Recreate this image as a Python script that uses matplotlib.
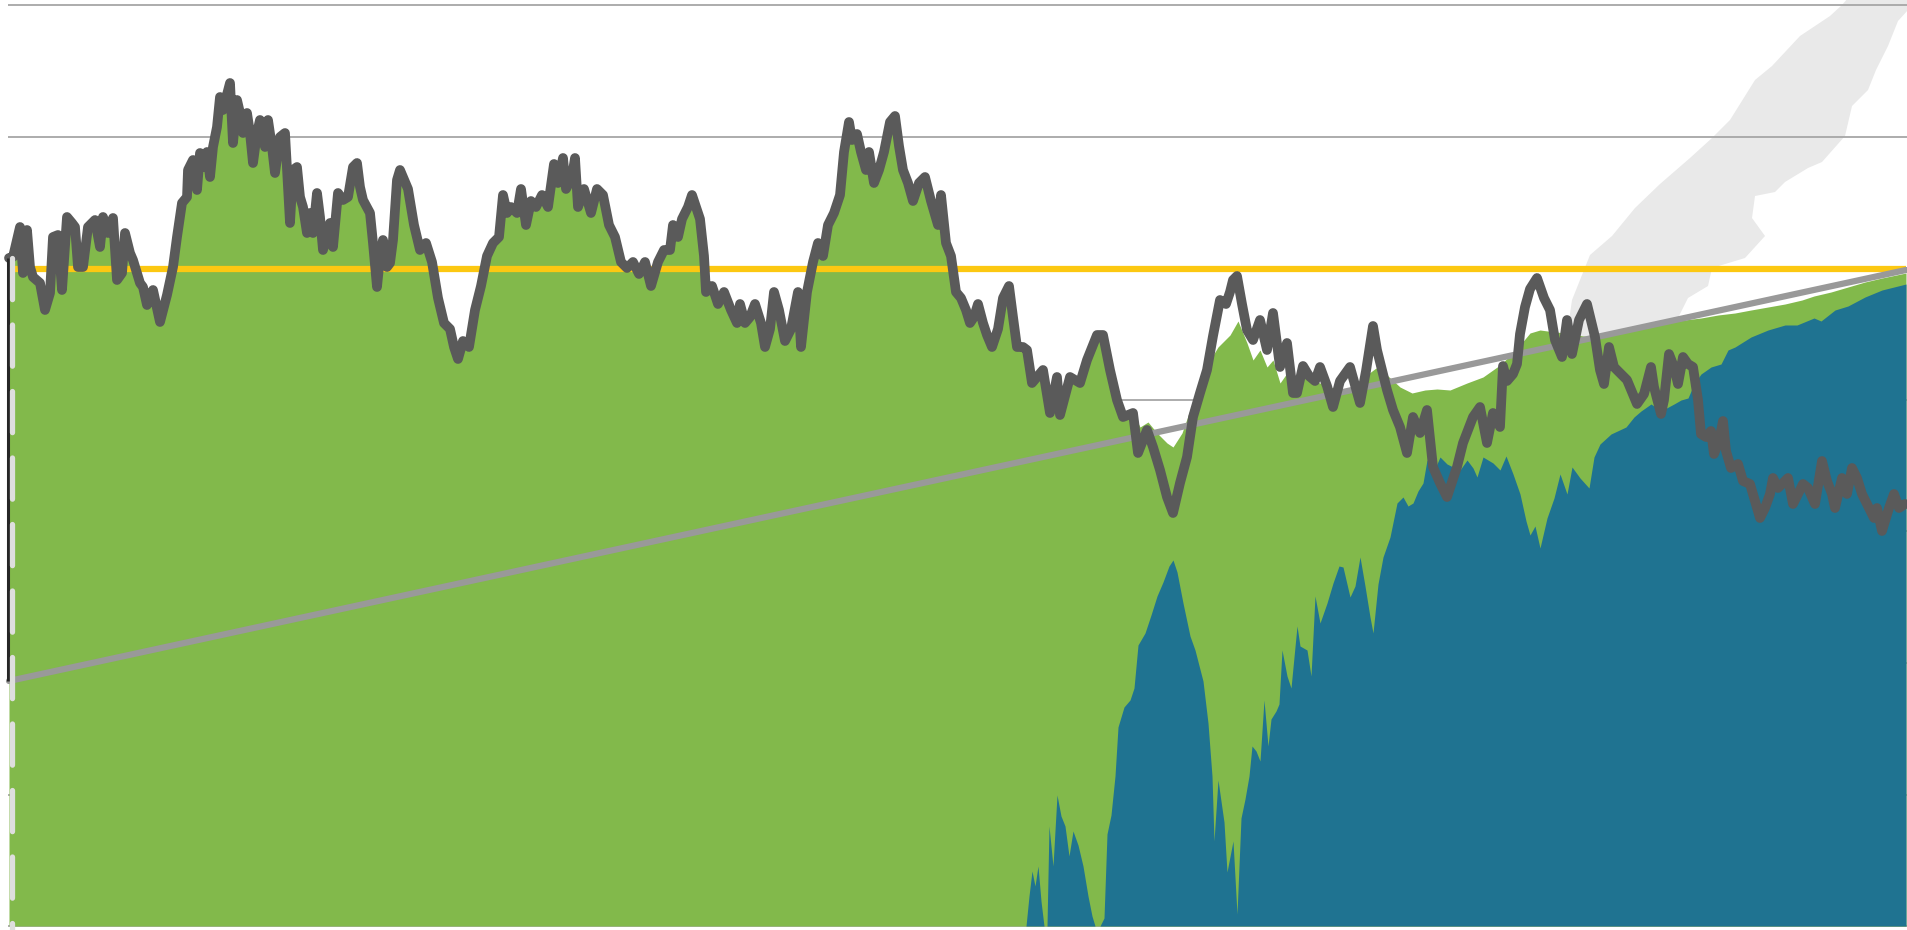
# -*- coding: utf-8 -*-
import numpy as np
import matplotlib
matplotlib.use('Agg')
import matplotlib.pyplot as plt


# Price line (day, level)
price_day = np.array([
    9, 13, 20, 23, 27, 30, 33, 40, 45, 50, 53, 58, 62, 67, 72, 75, 78, 83, 88, 95,
    100, 103, 108, 113, 117, 122, 125, 130, 133, 140, 143, 147, 153, 160, 167, 173, 177, 182, 187, 188,
    193, 197, 200, 203, 207, 210, 213, 217, 220, 223, 230, 233, 237, 240, 243, 247, 250, 253, 257, 260,
    265, 268, 272, 275, 280, 285, 290, 293, 297, 300, 303, 307, 310, 313, 317, 320, 323, 330, 333, 338,
    343, 348, 353, 357, 360, 363, 370, 373, 377, 380, 383, 387, 390, 393, 397, 400,
    408, 414, 420, 426, 432, 438, 444, 450, 454, 458, 463, 469, 475, 481, 487, 493, 499, 503, 507, 511,
    517, 521, 526, 531, 536, 542, 548, 554, 558, 563, 566, 572, 575, 578, 584, 591, 597, 603, 609, 615,
    621, 627, 633, 639, 645, 651, 658, 664, 670, 673, 678, 682, 688, 692, 696, 700, 704, 706, 712, 718,
    724, 731, 737, 740, 745, 750, 755, 761, 765, 770, 774, 779, 785, 791, 798, 801, 807, 813, 818, 823,
    828, 834, 840, 844, 849, 852, 857, 861, 866, 869, 874, 879, 884, 890, 895, 899, 903, 908, 913, 919,
    925, 931, 938, 941, 946, 951, 956, 961, 966, 970, 974, 978, 983, 987, 992, 998,
    1003, 1009, 1013, 1017, 1023, 1027, 1032, 1043, 1050, 1057, 1060, 1070, 1080, 1087, 1097, 1103, 1110, 1117, 1123, 1133,
    1138, 1147, 1153, 1160, 1167, 1173, 1180, 1187, 1193, 1200, 1207, 1213, 1220, 1226, 1230, 1233, 1237, 1242, 1247, 1253,
    1260, 1267, 1273, 1280, 1287, 1293, 1297, 1303, 1309, 1315, 1320, 1327, 1333, 1340, 1350, 1360, 1366, 1373, 1377, 1387,
    1393, 1400, 1407, 1413, 1420, 1427, 1433, 1440, 1447, 1457, 1463, 1473, 1480, 1487, 1493, 1500,
    1503, 1507, 1513, 1517, 1520, 1525, 1530, 1537, 1544, 1550, 1555, 1562, 1567, 1572, 1579, 1587, 1595, 1600, 1604, 1609,
    1614, 1621, 1627, 1634, 1637, 1644, 1651, 1654, 1661, 1664, 1669, 1674, 1678, 1683, 1688, 1693, 1698, 1701, 1706, 1711,
    1714, 1719, 1723, 1726, 1731, 1738, 1743, 1750, 1755, 1760, 1765, 1770, 1773, 1778, 1785, 1788, 1793, 1798, 1803, 1808,
    1815, 1822, 1827, 1832, 1835, 1842, 1847, 1852, 1857, 1862, 1869, 1874, 1877, 1882, 1889, 1894, 1899, 1905])
price_level = np.array([
    668, 669, 699, 653, 696, 659, 649, 643, 616, 633, 689, 691, 636, 709, 703, 699, 659, 659, 699, 706,
    679, 709, 693, 708, 646, 653, 693, 673, 666, 643, 639, 621, 636, 604, 631, 659, 689, 723, 729, 756,
    766, 736, 773, 759, 774, 749, 779, 799, 829, 816, 843, 783, 826, 813, 793, 813, 793, 763, 793, 806,
    779, 806, 779, 753, 789, 793, 703, 756, 759, 729, 719, 693, 713, 693, 733, 709, 676, 703, 679, 733,
    726, 729, 759, 763, 739, 726, 713, 683, 639, 669, 686, 659, 663, 686, 746, 756,
    737, 701, 676, 683, 664, 628, 603, 597, 579, 567, 585, 579, 616, 640, 670, 683, 689, 731, 713, 719,
    713, 737, 701, 725, 719, 731, 719, 762, 743, 768, 737, 749, 768, 719, 737, 713, 737, 731, 701, 689,
    664, 658, 664, 652, 664, 640, 664, 676, 676, 701, 689, 707, 719, 731, 719, 707, 670, 634, 640, 622,
    634, 616, 603, 622, 603, 609, 622, 603, 579, 597, 634, 616, 585, 597, 634, 579, 634, 664, 683, 670,
    701, 713, 731, 774, 804, 786, 792, 774, 756, 774, 743, 756, 774, 804, 810, 780, 756, 743, 725, 743,
    749, 725, 701, 731, 683, 670, 634, 628, 616, 603, 609, 622, 603, 591, 579, 597,
    628, 640, 609, 579, 579, 576, 543, 556, 513, 549, 511, 549, 543, 566, 591, 591, 556, 526, 509, 513,
    473, 496, 479, 456, 429, 413, 443, 469, 509, 533, 556, 590, 626, 622, 634, 646, 650, 622, 596, 586,
    606, 576, 613, 559, 583, 533, 533, 560, 550, 545, 559, 540, 519, 545, 559, 523, 555, 600, 576, 536,
    516, 499, 473, 509, 493, 516, 459, 443, 429, 459, 483, 509, 519, 483, 513, 499,
    560, 545, 552, 562, 592, 619, 637, 648, 628, 616, 586, 569, 606, 572, 606, 622, 589, 556, 542, 579,
    559, 552, 546, 529, 522, 532, 559, 539, 512, 526, 572, 559, 542, 569, 562, 559, 526, 492, 489, 495,
    472, 485, 505, 475, 458, 462, 445, 442, 425, 408, 418, 432, 448, 438, 445, 448, 422, 432, 442, 438,
    422, 465, 445, 432, 418, 448, 432, 458, 448, 432, 418, 408, 418, 395, 418, 432, 418, 422])

# Green area: same as the price up to day 1133, then its own top
green_split = 1133
green_tail_day = np.array([
    1140, 1148, 1157, 1167, 1173, 1182, 1190, 1200, 1210, 1218, 1230, 1238, 1247, 1253, 1260, 1267, 1273, 1280, 1287, 1293,
    1303, 1315, 1327, 1339, 1352, 1364, 1376, 1388, 1400, 1412, 1425, 1437, 1450, 1467, 1483, 1500, 1515, 1530, 1540, 1555,
    1567, 1583, 1600, 1617, 1634, 1651, 1668, 1684, 1701, 1718, 1735, 1751, 1768, 1785, 1802, 1814, 1831, 1848, 1865, 1882,
    1906])
green_tail_level = np.array([
    499, 504, 493, 483, 479, 493, 516, 543, 566, 579, 591, 605, 583, 566, 576, 559, 566, 543, 553, 536,
    548, 545, 540, 536, 536, 549, 558, 550, 539, 533, 536, 537, 536, 543, 549, 561, 575, 593, 596, 594,
    593, 590, 589, 593, 596, 599, 603, 606, 608, 611, 613, 616, 619, 622, 626, 630, 634, 639, 644, 648,
    653])

# Teal area
teal_day = np.array([
    1026, 1029, 1032, 1035, 1038, 1041, 1044, 1047, 1049, 1053, 1057, 1061, 1065, 1069, 1073, 1078, 1083, 1088, 1092, 1095,
    1100, 1104, 1107, 1111, 1115, 1118, 1124, 1130, 1134, 1138, 1145, 1151, 1157, 1163, 1169, 1173, 1177, 1183, 1190, 1195,
    1203, 1208, 1212, 1214, 1218, 1224, 1227, 1233, 1237, 1241, 1245, 1249, 1252, 1256, 1260, 1264, 1268, 1271, 1276, 1279,
    1282, 1287, 1291, 1297, 1300, 1307, 1311, 1315, 1320, 1327, 1333, 1339, 1343, 1350, 1355, 1360, 1365, 1370, 1373, 1378,
    1383, 1390, 1397, 1403, 1408, 1413, 1418, 1423, 1427, 1433, 1440, 1447, 1453, 1460, 1467, 1473, 1477, 1483, 1493, 1500,
    1506, 1513, 1520, 1526, 1530, 1535, 1540, 1547, 1554, 1560, 1567, 1572, 1580, 1589, 1594, 1600, 1611, 1626, 1634, 1641,
    1651, 1661, 1674, 1681, 1688, 1694, 1701, 1711, 1721, 1728, 1735, 1751, 1768, 1785, 1797, 1814, 1821, 1835, 1848, 1865,
    1882, 1906])
teal_level = np.array([
    0, 30, 55, 40, 60, 25, 0, 0, 100, 60, 131, 110, 100, 70, 95, 81, 60, 30, 10, 0,
    0, 8, 92, 111, 150, 199, 219, 226, 238, 281, 293, 311, 330, 344, 360, 366, 354, 323, 290, 276,
    245, 203, 150, 85, 146, 104, 54, 85, 12, 108, 127, 150, 180, 175, 165, 226, 180, 207, 215, 222,
    276, 250, 238, 300, 280, 276, 250, 330, 303, 323, 343, 360, 359, 329, 340, 369, 340, 309, 293, 342,
    369, 389, 423, 429, 420, 423, 435, 443, 466, 453, 469, 462, 459, 456, 466, 458, 449, 469, 463, 456,
    470, 452, 432, 405, 391, 400, 378, 408, 428, 452, 432, 459, 448, 438, 469, 482, 492, 499, 509, 515,
    522, 515, 522, 526, 528, 542, 552, 559, 562, 576, 579, 589, 596, 601, 601, 608, 605, 616, 620, 629,
    636, 642])

target_level = 657              # yellow reference line
trend_day = [9, 1906]           # straight grey trend line
trend_level = [245, 656]
grid_step = 131.5

# faint blob in the top right corner
blob_day = [1562, 1572, 1590, 1612, 1635, 1660, 1690, 1712, 1730, 1755, 1772, 1800, 1830, 1842, 1848,
            1908, 1908, 1898, 1888, 1876, 1868, 1852, 1845, 1822, 1808, 1785, 1775, 1755, 1752, 1765,
            1745, 1712, 1708, 1688, 1675, 1664, 1642, 1600]
blob_level = [556, 626, 671, 690, 718, 742, 768, 788, 806, 846, 860, 890, 910, 921, 928,
              928, 916, 905, 880, 856, 836, 820, 790, 764, 758, 744, 734, 730, 708, 690,
              668, 658, 640, 628, 602, 578, 562, 552]

green_c = '#82b94b'
teal_c = '#1f7391'

green_day = np.concatenate([price_day[price_day <= green_split], green_tail_day])
green_level = np.concatenate([price_level[price_day <= green_split], green_tail_level])

fig = plt.figure(figsize=(19.08, 9.30), dpi=100)
ax = fig.add_axes([0, 0, 1, 1])
ax.set_xlim(0, 1908)
ax.set_ylim(-4, 926)
ax.axis('off')

ax.fill(blob_day, blob_level, color='#e9e9e9', lw=0, zorder=0.5)
ax.hlines(np.arange(0, 921, grid_step), 8, 1908, color='#a6a6a6', lw=1.3, zorder=1)

ax.fill_between(green_day, 0, green_level, color=green_c, lw=0, zorder=2)
ax.fill_between(teal_day, 0, teal_level, color=teal_c, lw=0, zorder=3)

ax.plot([trend_day[0], trend_day[1]], [target_level, target_level], color='#fcc812', lw=4.5,
        solid_capstyle='butt', zorder=4)
ax.plot(trend_day, trend_level, color='#999999', lw=4.5, solid_capstyle='round', zorder=5)
ax.plot(price_day, price_level, color='#5a5a5a', lw=7.0, solid_joinstyle='round',
        solid_capstyle='round', zorder=6)

# range marker on the left edge
ax.plot([8.5, 8.5], [trend_level[0], price_level[0]], color='#262626', lw=2.2,
        solid_capstyle='butt', zorder=7)
ax.plot([12, 12], [price_level[0], -4], color='#dedede', lw=3.8,
        linestyle=(0, (7.8, 4.8)), dash_capstyle='round', zorder=8)

fig.savefig('out.png', dpi=100)
